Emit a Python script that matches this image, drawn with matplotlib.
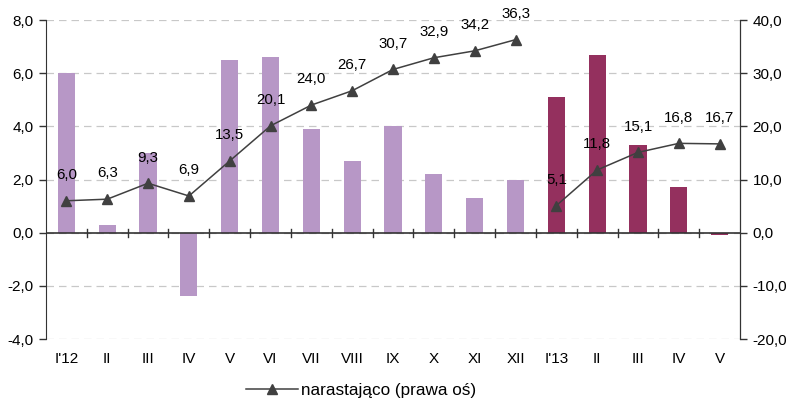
import matplotlib
matplotlib.use('Agg')
import matplotlib.pyplot as plt
import numpy as np

plt.rcParams['font.family'] = ['Liberation Sans', 'DejaVu Sans']

months = ["I'12", "II", "III", "IV", "V", "VI", "VII", "VIII", "IX", "X", "XI", "XII",
          "I'13", "II", "III", "IV", "V"]
monthly_2012 = [6.0, 0.3, 3.0, -2.4, 6.5, 6.6, 3.9, 2.7, 4.0, 2.2, 1.3, 2.0]
monthly_2013 = [5.1, 6.7, 3.3, 1.7, -0.1]
cumul_2012 = [6.0, 6.3, 9.3, 6.9, 13.5, 20.1, 24.0, 26.7, 30.7, 32.9, 34.2, 36.3]
cumul_2013 = [5.1, 11.8, 15.1, 16.8, 16.7]

def fmt(v):
    return ("%.1f" % v).replace(".", ",")

fig = plt.figure(figsize=(7.89, 4.01), dpi=100)
ax = fig.add_axes([0.0583, 0.1546, 0.8797, 0.7955])
ax2 = ax.twinx()

x1 = np.arange(len(monthly_2012))
x2 = np.arange(len(monthly_2012), len(months))

ax.bar(x1, monthly_2012, width=0.42, color='#B797C6', zorder=2)
ax.bar(x2, monthly_2013, width=0.42, color='#94305E', zorder=2)

line_kw = dict(color='#404040', lw=1.1, marker='^', ms=6.5, mfc='#404040', mec='#404040')
l1, = ax2.plot(x1, cumul_2012, **line_kw)
ax2.plot(x2, cumul_2013, **line_kw)

for xs, ys in ((x1, cumul_2012), (x2, cumul_2013)):
    for xi, yi in zip(xs, ys):
        ax2.annotate(fmt(yi), (xi, yi), xytext=(0, 18.5), textcoords='offset points',
                     ha='center', va='center', fontsize=10.8, color='black')

ax.set_xlim(-0.5, len(months) - 0.5)
ax.set_ylim(-4, 8)
ax2.set_ylim(-20, 40)
ax.set_yticks(np.arange(-4, 8.1, 2))
ax2.set_yticks(np.arange(-20, 40.1, 10))
ax.set_yticklabels([fmt(v) for v in np.arange(-4, 8.1, 2)], fontsize=11)
ax2.set_yticklabels([fmt(v) for v in np.arange(-20, 40.1, 10)], fontsize=11)

ax.yaxis.grid(True, color='#C8C8C8', ls=(0, (6, 4)), lw=0.9, zorder=0)
ax.set_axisbelow(True)

for a in (ax, ax2):
    a.spines['top'].set_visible(False)
    a.spines['bottom'].set_visible(False)
    a.tick_params(axis='y', length=5, width=1, color='#333333', pad=4)
ax.spines['left'].set_color('#333333')
ax2.spines['right'].set_color('#333333')
ax2.spines['left'].set_visible(False)

# category axis drawn along zero with ticks between months
ax.axhline(0, color='#333333', lw=1.2, zorder=3)
ax.set_xticks(np.arange(len(months)))
ax.set_xticklabels(months, fontsize=11)
ax.tick_params(axis='x', length=0, pad=9)
for b in np.arange(0.5, len(months) - 1, 1.0):
    ax.plot([b, b], [-0.15, 0.15], color='#333333', lw=1, zorder=3, clip_on=False)

fig.legend([l1], ['narastająco (prawa oś)'], loc='center', bbox_to_anchor=(0.458, 0.027),
           frameon=False, fontsize=12.3, handlelength=3.0, handletextpad=0.2)

fig.savefig('out.png', dpi=100)
